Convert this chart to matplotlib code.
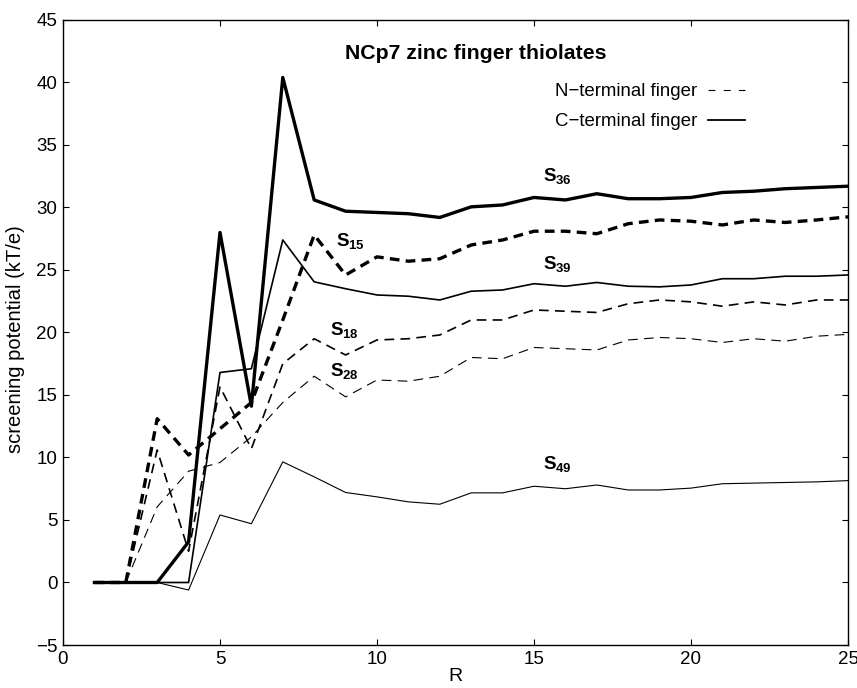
import numpy as np
import matplotlib
matplotlib.use("Agg")
import matplotlib.pyplot as plt
from matplotlib.lines import Line2D

plt.rcParams['font.family'] = ['Liberation Sans', 'DejaVu Sans']
plt.rcParams['mathtext.fontset'] = 'custom'
plt.rcParams['mathtext.rm'] = 'Liberation Sans'
plt.rcParams['mathtext.bf'] = 'Liberation Sans:bold'
plt.rcParams['lines.scale_dashes'] = False

# --- data ---
R = list(range(1, 26))
s36 = [0, 0, 0, 3.25, 28.0, 14.1, 40.4, 30.6, 29.7, 29.6, 29.5, 29.2, 30.05, 30.2, 30.8,
       30.6, 31.1, 30.7, 30.7, 30.8, 31.2, 31.3, 31.5, 31.6, 31.7]
s15 = [0, 0, 13.1, 10.2, 12.3, 14.4, 21.0, 27.8, 24.6, 26.05, 25.7, 25.9, 27.0, 27.4, 28.1,
       28.1, 27.9, 28.7, 29.0, 28.9, 28.6, 29.0, 28.8, 29.0, 29.25]
s39 = [0, 0, 0, 0, 16.8, 17.1, 27.4, 24.05, 23.5, 23.0, 22.9, 22.6, 23.3, 23.4, 23.9,
       23.7, 24.0, 23.7, 23.65, 23.8, 24.3, 24.3, 24.5, 24.5, 24.6]
s18 = [0, 0, 10.6, 2.5, 15.65, 10.7, 17.5, 19.5, 18.2, 19.4, 19.5, 19.8, 21.0, 21.0, 21.8,
       21.7, 21.6, 22.3, 22.6, 22.45, 22.1, 22.45, 22.2, 22.6, 22.6]
s28 = [0, 0, 6.05, 8.9, 9.6, 11.65, 14.4, 16.5, 14.85, 16.2, 16.1, 16.5, 18.0, 17.9, 18.8,
       18.7, 18.6, 19.4, 19.6, 19.5, 19.2, 19.5, 19.3, 19.7, 19.85]
s49 = [0, 0, 0, -0.6, 5.4, 4.7, 9.65, 8.45, 7.2, 6.85, 6.45, 6.26, 7.17, 7.17, 7.7,
       7.5, 7.8, 7.4, 7.4, 7.55, 7.9, 7.95, 8.0, 8.05, 8.15]

# label text and where it sits
labels = ['36', '15', '39', '18', '28', '49']
label_x = [15.3, 8.7, 15.3, 8.5, 8.5, 15.3]
label_y = [32.5, 27.3, 25.5, 20.2, 16.9, 9.5]

fig = plt.figure(figsize=(8.57, 6.88), dpi=100)
ax = fig.add_axes([0.0735, 0.0625, 0.916, 0.9085])

dash = (7, 4.5)
ax.plot(R, s36, color='black', lw=2.4)
ax.plot(R, s15, color='black', lw=2.4, ls='--', dashes=dash)
ax.plot(R, s39, color='black', lw=1.2)
ax.plot(R, s18, color='black', lw=1.2, ls='--', dashes=dash)
ax.plot(R, s28, color='black', lw=0.8, ls='--', dashes=dash)
ax.plot(R, s49, color='black', lw=0.8)

for lab, lx, ly in zip(labels, label_x, label_y):
    ax.text(lx, ly, r'$\mathbf{S_{' + lab + '}}$', fontsize=13.5, va='center', ha='left')

ax.text(0.526, 0.947, 'NCp7 zinc finger thiolates', transform=ax.transAxes,
        fontsize=15.3, fontweight='bold', ha='center', va='center')

handles = [Line2D([], [], color='black', lw=0.8, ls='--', dashes=(5, 6)),
           Line2D([], [], color='black', lw=1.3)]
ax.legend(handles, ['N\u2212terminal finger', 'C\u2212terminal finger'],
          loc='upper right', bbox_to_anchor=(0.869, 0.899), frameon=False,
          markerfirst=False, fontsize=13.4, handlelength=2.0, handletextpad=0.6,
          labelspacing=0.7, borderpad=0, borderaxespad=0)

ax.set_xlim(0, 25)
ax.set_ylim(-5, 45)
ax.set_xticks(np.arange(0, 26, 5))
ax.set_yticks(np.arange(-5, 46, 5))
ax.set_yticklabels(['\u22125'] + [str(v) for v in range(0, 46, 5)])
ax.tick_params(direction='in', top=True, right=True, length=4.5, labelsize=13.5, pad=4)
for sp in ax.spines.values():
    sp.set_linewidth(1.0)

ax.set_xlabel('R', fontsize=14, labelpad=0)
ax.set_ylabel('screening potential (kT/e)', fontsize=14.5)
ax.yaxis.set_label_coords(-0.048, 0.49)

fig.savefig('out.png', dpi=100)
